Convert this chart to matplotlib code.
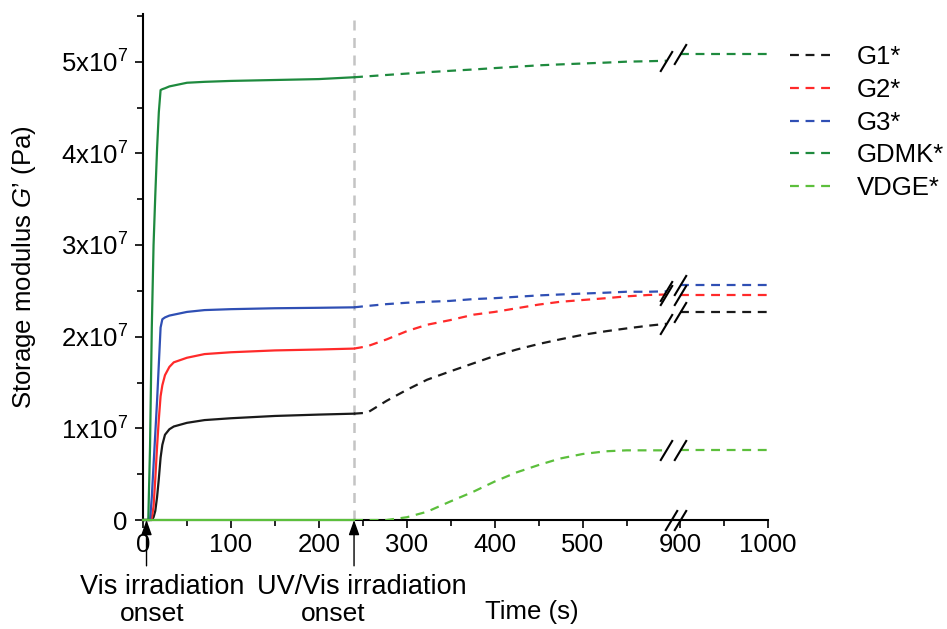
import matplotlib
matplotlib.use("Agg")
import matplotlib.pyplot as plt
from matplotlib.path import Path
from matplotlib.ticker import FixedLocator, FixedFormatter

plt.rcParams['font.family'] = ['Liberation Sans', 'DejaVu Sans']
plt.rcParams['mathtext.fontset'] = 'custom'
plt.rcParams['mathtext.rm'] = 'Liberation Sans'
plt.rcParams['mathtext.it'] = 'Liberation Sans:italic'
plt.rcParams['mathtext.default'] = 'regular'

# ---------------- data (G' in units of 1e7 Pa) ----------------
series = ["G1*", "G2*", "G3*", "GDMK*", "VDGE*"]
colors = ["#1a1a1a", "#ff2a2a", "#2f4fb4", "#1e8a3e", "#5cbf3c"]

# Vis irradiation phase (solid), 0 - 240 s
t_vis = [0, 6, 8, 10, 12, 14, 16, 18, 20, 22, 25, 30, 35, 50, 70, 100, 150, 200, 240]
g1_vis = [0, 0, 0, 0, 0.03, 0.10, 0.25, 0.45, 0.68, 0.82, 0.93, 0.99, 1.02, 1.06, 1.09, 1.11, 1.135, 1.15, 1.16]
g2_vis = [0, 0, 0, 0.02, 0.15, 0.45, 0.80, 1.10, 1.35, 1.47, 1.58, 1.67, 1.72, 1.77, 1.81, 1.83, 1.85, 1.86, 1.87]
g3_vis = [0, 0, 0, 0.25, 0.60, 0.95, 1.30, 1.70, 2.10, 2.19, 2.21, 2.23, 2.24, 2.27, 2.29, 2.30, 2.31, 2.315, 2.32]
gdmk_vis = [0, 0, 0.8, 2.1, 3.0, 3.55, 4.05, 4.45, 4.69, 4.70, 4.71, 4.73, 4.74, 4.77, 4.78, 4.79, 4.80, 4.81, 4.83]
vdge_vis = [0] * len(t_vis)

# UV/Vis irradiation phase (dashed), 240 - 595 s
t_uv = [240, 255, 277, 300, 323, 349, 376, 400, 425, 450, 474, 500, 527, 550, 575, 595]
g1_uv = [1.16, 1.17, 1.30, 1.42, 1.53, 1.62, 1.71, 1.79, 1.86, 1.92, 1.97, 2.02, 2.06, 2.09, 2.12, 2.14]
g2_uv = [1.87, 1.895, 1.97, 2.06, 2.13, 2.18, 2.24, 2.27, 2.31, 2.35, 2.38, 2.40, 2.42, 2.44, 2.455, 2.46]
g3_uv = [2.32, 2.335, 2.355, 2.37, 2.38, 2.39, 2.41, 2.42, 2.435, 2.45, 2.46, 2.47, 2.48, 2.49, 2.49, 2.495]
gdmk_uv = [4.83, 4.84, 4.855, 4.87, 4.885, 4.90, 4.915, 4.93, 4.945, 4.96, 4.97, 4.98, 4.99, 5.00, 5.005, 5.01]
vdge_uv = [0, 0, 0, 0.03, 0.09, 0.20, 0.31, 0.42, 0.52, 0.60, 0.67, 0.72, 0.75, 0.76, 0.76, 0.76]

# final plateau after the axis break, 900 - 1000 s
t_end = [900, 1000]
g1_end = [2.27, 2.27]
g2_end = [2.46, 2.46]
g3_end = [2.56, 2.56]
gdmk_end = [5.08, 5.08]
vdge_end = [0.76, 0.76]

vis_vals = [g1_vis, g2_vis, g3_vis, gdmk_vis, vdge_vis]
uv_vals = [g1_uv, g2_uv, g3_uv, gdmk_uv, vdge_uv]
end_vals = [g1_end, g2_end, g3_end, gdmk_end, vdge_end]

uv_onset = 240
vis_onset = 4
scale = 1e7

yticks = [0, 1, 2, 3, 4, 5]
ytick_labels = ["0", "1x10$^7$", "2x10$^7$", "3x10$^7$", "4x10$^7$", "5x10$^7$"]
xticks_left = [0, 100, 200, 300, 400, 500]
xticks_right = [900, 1000]

# ---------------- figure ----------------
W, H = 947, 629
fig = plt.figure(figsize=(W / 100, H / 100), dpi=100)

def fx(px):
    return px / W

def fy(py):
    return (H - py) / H

ax_l = fig.add_axes([fx(143), fy(520), fx(675) - fx(143), fy(14) - fy(520)])
ax_r = fig.add_axes([fx(675), fy(520), fx(768) - fx(675), fy(14) - fy(520)])

ymax = 5.52e7
ax_l.set_xlim(0, 605)
ax_r.set_xlim(894, 1000)
for ax in (ax_l, ax_r):
    ax.set_ylim(0, ymax)
    ax.spines['top'].set_visible(False)
    ax.spines['right'].set_visible(False)
    ax.spines['bottom'].set_linewidth(1.5)
    ax.spines['left'].set_linewidth(1.5)
    ax.tick_params(which='major', direction='out', length=6, width=1.2, labelsize=18.5, pad=3)
    ax.tick_params(which='minor', direction='out', length=4, width=1.2)
    ax.patch.set_alpha(0)
ax_r.spines['left'].set_visible(False)
ax_r.yaxis.set_visible(False)

ax_l.xaxis.set_major_locator(FixedLocator(xticks_left))
ax_l.xaxis.set_minor_locator(FixedLocator([50, 150, 250, 350, 450, 550]))
ax_r.xaxis.set_major_locator(FixedLocator(xticks_right))
ax_r.xaxis.set_minor_locator(FixedLocator([950]))

ax_l.yaxis.set_major_locator(FixedLocator([v * scale for v in yticks]))
ax_l.yaxis.set_major_formatter(FixedFormatter(ytick_labels))
ax_l.yaxis.set_minor_locator(FixedLocator([(v + 0.5) * scale for v in yticks]))
ax_l.tick_params(axis='y', which='major', pad=5)

# grey dashed onset line
ax_l.axvline(uv_onset, color="#c4c4c4", lw=1.8, dashes=(4, 3), zorder=1)

slash = Path([(-0.6, -1.0), (0.6, 1.0)])
handles = []
for name, c, tv, tu, te in zip(series, colors, vis_vals, uv_vals, end_vals):
    ax_l.plot(t_vis, [v * scale for v in tv], color=c, lw=1.6, clip_on=False, zorder=3)
    h, = ax_l.plot(t_uv, [v * scale for v in tu], color=c, lw=1.6, dashes=(4, 3), zorder=3)
    ax_r.plot(t_end, [v * scale for v in te], color=c, lw=1.6, dashes=(4, 3), zorder=3)
    handles.append(h)
    # break marks on each curve
    ax_l.plot([t_uv[-1]], [tu[-1] * scale], marker=slash, ms=15, mew=1.5, mec='k',
              ls='none', clip_on=False, zorder=4)
    ax_r.plot([t_end[0]], [te[0] * scale], marker=slash, ms=15, mew=1.5, mec='k',
              ls='none', clip_on=False, zorder=4)

# break marks on the x axis
ax_l.plot([600], [0], marker=slash, ms=15, mew=1.5, mec='k', ls='none', clip_on=False, zorder=5)
ax_r.plot([900], [0], marker=slash, ms=15, mew=1.5, mec='k', ls='none', clip_on=False, zorder=5)

# onset arrows
for tx in (vis_onset, uv_onset):
    ax_l.annotate("", xy=(tx, 0), xytext=(0, -33), textcoords='offset points',
                  arrowprops=dict(arrowstyle='-|>,head_length=0.45,head_width=0.16',
                                  mutation_scale=20, color='k', lw=1.0,
                                  shrinkA=0, shrinkB=0), annotation_clip=False)

# labels
ax_l.set_ylabel("Storage modulus $\\mathit{G}$’ (Pa)", fontsize=18.5)
ax_l.yaxis.set_label_coords(-0.197, 0.5)

fig.text(fx(162), fy(594), "Vis irradiation", fontsize=19.5, ha='center', va='baseline')
fig.text(fx(152), fy(621), "onset", fontsize=19, ha='center', va='baseline')
fig.text(fx(362), fy(594), "UV/Vis irradiation", fontsize=19.5, ha='center', va='baseline')
fig.text(fx(333), fy(621), "onset", fontsize=19, ha='center', va='baseline')
fig.text(fx(532), fy(619), "Time (s)", fontsize=18.5, ha='center', va='baseline')

fig.legend(handles, series, loc='upper left', bbox_to_anchor=(fx(780), fy(35)),
           frameon=False, fontsize=18.5, handlelength=1.67, handletextpad=0.93,
           labelspacing=0.34, borderaxespad=0)

fig.savefig("out.png", dpi=100)
